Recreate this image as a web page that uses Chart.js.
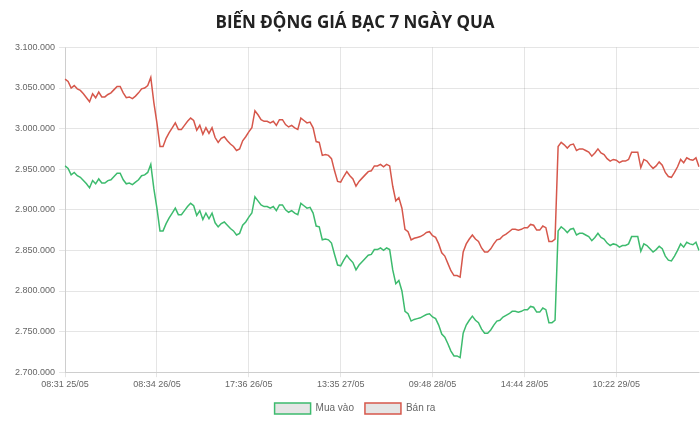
<!DOCTYPE html>
<html>
<head>
<meta charset="utf-8">
<script src="https://cdn.jsdelivr.net/npm/chart.js@4"></script>
<style>
  html, body { margin: 0; padding: 0; background: #fff; overflow: hidden; }
  #wrap { width: 712px; height: 424px; position: relative; }
</style>
</head>
<body>
<div id="wrap"><canvas id="c"></canvas></div>
<script>
const chartTitle = 'BIẾN ĐỘNG GIÁ BẠC 7 NGÀY QUA';
const seriesNames = ['Mua vào', 'Bán ra'];
const tickLabels = ['08:31 25/05', '08:34 26/05', '17:36 26/05', '13:35 27/05', '09:48 28/05', '14:44 28/05', '10:22 29/05'];
const tickEvery = 30;

const banRa = [
3061000,3058000,3050000,3053000,3049000,3047000,3043000,3038000,3033000,3043000,
3038000,3045000,3039000,3039000,3042000,3044000,3048000,3052000,3052000,3044000,
3038000,3039000,3037000,3040000,3044000,3049000,3050000,3053000,3063000,3032000,
3007000,2978000,2978000,2988000,2995000,3001000,3007000,2999000,2999000,3004000,
3009000,3013000,3010000,2998000,3004000,2993000,3001000,2994000,3001000,2989000,
2983000,2988000,2990000,2985000,2981000,2978000,2973000,2975000,2985000,2990000,
2996000,3001000,3022000,3017000,3011000,3009000,3009000,3007000,3009000,3004000,
3011000,3011000,3005000,3002000,3004000,3001000,2999000,3013000,3010000,3007000,
3008000,3001000,2984000,2983000,2967000,2968000,2967000,2963000,2948000,2935000,
2934000,2941000,2947000,2942000,2938000,2929000,2935000,2939000,2943000,2947000,
2948000,2954000,2954000,2956000,2953000,2956000,2954000,2929000,2911000,2915000,
2902000,2876000,2873000,2863000,2865000,2866000,2867000,2869000,2872000,2873000,
2868000,2866000,2858000,2847000,2843000,2834000,2825000,2819000,2819000,2817000,
2848000,2858000,2864000,2869000,2864000,2861000,2853000,2848000,2848000,2852000,
2858000,2863000,2864000,2868000,2870000,2873000,2876000,2876000,2875000,2876000,
2878000,2878000,2882000,2881000,2875000,2875000,2880000,2878000,2861000,2861000,
2864000,2978000,2983000,2980000,2976000,2980000,2981000,2973000,2975000,2975000,
2973000,2971000,2966000,2970000,2975000,2970000,2968000,2963000,2960000,2962000,
2961000,2958000,2960000,2960000,2962000,2971000,2971000,2971000,2952000,2962000,
2960000,2955000,2951000,2954000,2959000,2955000,2946000,2941000,2940000,2946000,
2953000,2962000,2958000,2964000,2962000,2961000,2964000,2953000
];

const muaVao = [
2954000,2951000,2943000,2946000,2942000,2940000,2936000,2932000,2927000,2936000,
2932000,2938000,2933000,2933000,2936000,2937000,2941000,2945000,2945000,2937000,
2932000,2933000,2931000,2934000,2937000,2942000,2943000,2946000,2956000,2926000,
2902000,2874000,2874000,2883000,2890000,2896000,2902000,2894000,2894000,2899000,
2904000,2908000,2905000,2893000,2899000,2888000,2896000,2889000,2896000,2884000,
2879000,2883000,2885000,2881000,2877000,2874000,2869000,2871000,2881000,2885000,
2891000,2896000,2916000,2911000,2906000,2904000,2904000,2902000,2904000,2899000,
2906000,2906000,2900000,2897000,2899000,2896000,2894000,2908000,2905000,2902000,
2903000,2896000,2880000,2879000,2863000,2864000,2863000,2859000,2845000,2832000,
2831000,2838000,2844000,2839000,2835000,2826000,2832000,2836000,2840000,2844000,
2845000,2851000,2851000,2853000,2850000,2853000,2851000,2826000,2809000,2813000,
2800000,2775000,2772000,2763000,2765000,2766000,2767000,2769000,2771000,2772000,
2768000,2766000,2758000,2747000,2743000,2735000,2726000,2720000,2720000,2718000,
2748000,2758000,2764000,2769000,2764000,2761000,2753000,2748000,2748000,2752000,
2758000,2763000,2764000,2768000,2770000,2772000,2775000,2775000,2774000,2775000,
2777000,2777000,2781000,2780000,2774000,2774000,2779000,2777000,2761000,2761000,
2764000,2874000,2879000,2876000,2872000,2876000,2877000,2869000,2871000,2871000,
2869000,2867000,2862000,2866000,2871000,2866000,2864000,2859000,2856000,2858000,
2857000,2854000,2856000,2856000,2858000,2867000,2867000,2867000,2849000,2858000,
2856000,2852000,2848000,2851000,2855000,2852000,2843000,2838000,2837000,2843000,
2850000,2858000,2854000,2860000,2858000,2857000,2860000,2850000
];

const yMin = 2700000, yMax = 3100000, yStep = 50000;

const categories = banRa.map((_, i) => i);

function fmt(v) {
  return String(Math.round(v)).replace(/\B(?=(\d{3})+(?!\d))/g, '.');
}

const tickFont = { family: 'Arial, "Liberation Sans", sans-serif', size: 9 };

new Chart(document.getElementById('c'), {
  type: 'line',
  data: {
    labels: categories,
    datasets: [
      {
        label: seriesNames[0],
        data: muaVao,
        borderColor: '#3dbb6e',
        backgroundColor: 'rgba(0,0,0,0.1)',
        borderWidth: 1.5,
        pointRadius: 0,
        tension: 0,
        fill: false
      },
      {
        label: seriesNames[1],
        data: banRa,
        borderColor: '#d6574b',
        backgroundColor: 'rgba(0,0,0,0.1)',
        borderWidth: 1.5,
        pointRadius: 0,
        tension: 0,
        fill: false
      }
    ]
  },
  options: {
    responsive: true,
    maintainAspectRatio: false,
    animation: false,
    layout: { padding: { left: 11, right: 13, bottom: 0 } },
    plugins: {
      title: {
        display: true,
        text: chartTitle,
        color: '#222',
        font: { family: '"Open Sans", sans-serif', size: 17, weight: 'bold' },
        padding: { top: 13, bottom: 14 }
      },
      legend: {
        position: 'bottom',
        labels: {
          boxWidth: 36,
          boxHeight: 11,
          color: '#666',
          font: { family: 'Arial, "Liberation Sans", sans-serif', size: 10 },
          padding: 11
        }
      },
      tooltip: { enabled: false }
    },
    scales: {
      x: {
        type: 'category',
        grid: { color: 'rgba(0,0,0,0.1)', tickLength: 5 },
        ticks: {
          autoSkip: false,
          maxRotation: 0,
          padding: 2,
          color: '#666',
          font: tickFont,
          callback: function (value, index) {
            if (index % tickEvery === 0 && tickLabels[index / tickEvery] !== undefined) {
              return tickLabels[index / tickEvery];
            }
            return null;
          }
        }
      },
      y: {
        min: yMin,
        max: yMax,
        grid: { color: 'rgba(0,0,0,0.1)', tickLength: 6 },
        ticks: {
          stepSize: yStep,
          padding: 4,
          color: '#666',
          font: tickFont,
          callback: function (v) { return fmt(v); }
        }
      }
    }
  }
});
</script>
</body>
</html>
